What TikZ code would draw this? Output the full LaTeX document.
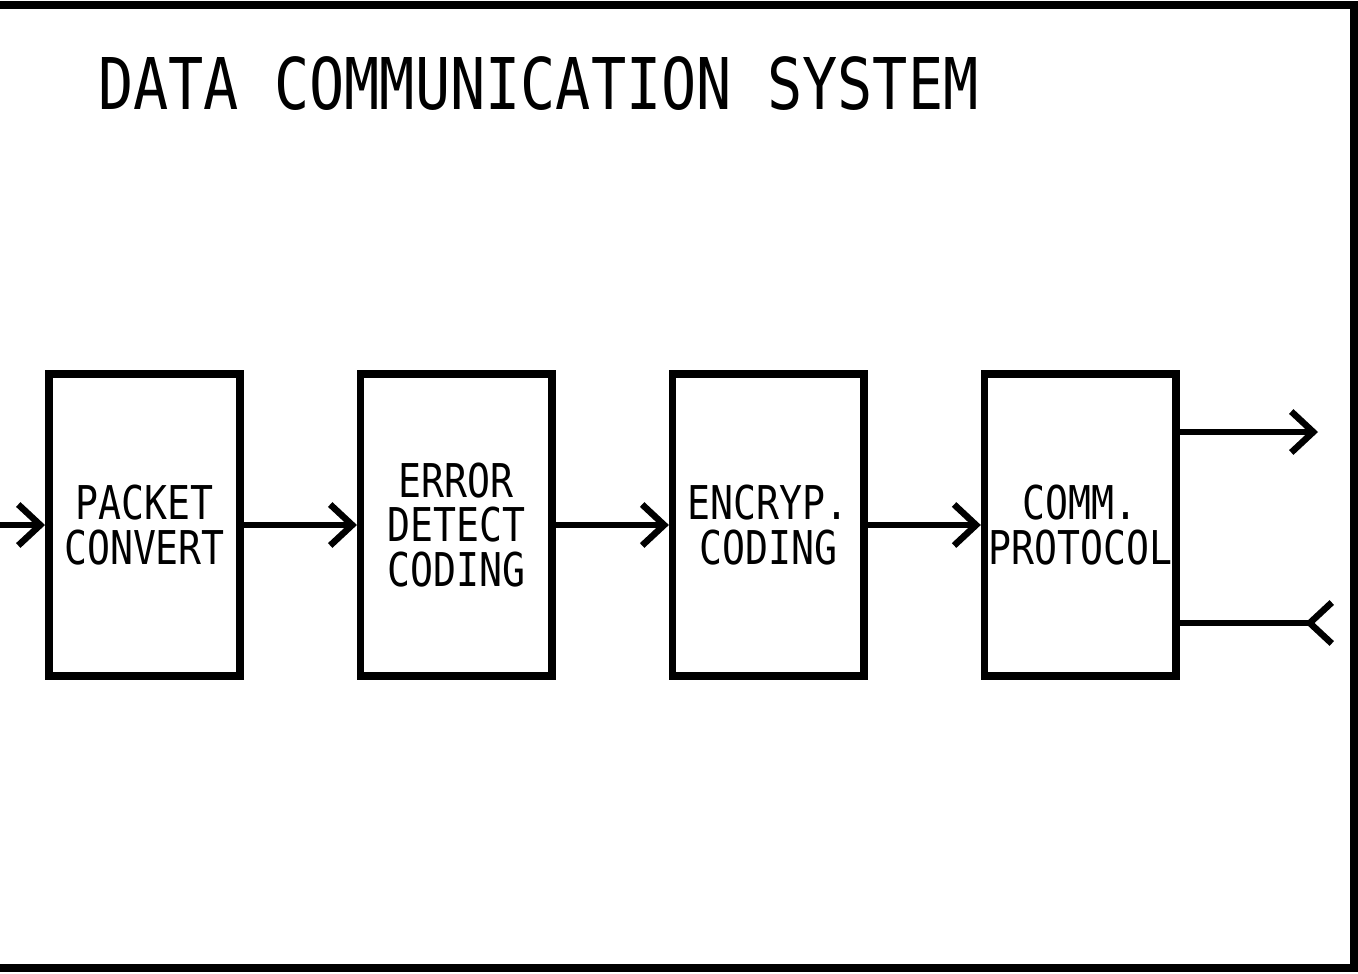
\documentclass[tikz,border=0pt]{standalone}
\usepackage{fontspec}
\usepackage{tikz}
\usetikzlibrary{arrows.meta, positioning}
\newfontfamily\plotfont[FakeStretch=0.82]{DejaVu Sans Mono}
\newfontfamily\titlefont[FakeStretch=0.82]{DejaVu Sans Mono}

\begin{document}
\begin{tikzpicture}[
      x=0.02cm, y=-0.02cm,
      block/.style={rectangle, draw, line width=0.15cm, minimum width=3.83cm, minimum height=6.05cm, inner sep=0pt, align=center, font=\plotfont\fontsize{26.5}{25.5}\selectfont},
      link/.style={line width=0.13cm, -{Straight Barb[length=0.44cm, width=0.82cm]}},
      backlink/.style={line width=0.13cm, -{Straight Barb[length=0.44cm, width=0.82cm, reversed]}}
    ]
      \useasboundingbox (0,0) rectangle (1358,973);
      \draw[line width=0.17cm] (0,5) -- (1354,5) -- (1354,968) -- (0,968);

      \node[anchor=base west, font=\titlefont\fontsize{40.6}{44}\selectfont] (title) at (92,110) {DATA COMMUNICATION SYSTEM};

      \node[block] (pkt) at (144.5,525) {PACKET\\CONVERT};
      \node[block, right=2.26cm of pkt] (err) {ERROR\\DETECT\\CODING};
      \node[block, right=2.26cm of err] (enc) {ENCRYP.\\CODING};
      \node[block, right=2.26cm of enc] (proto) {COMM.\\PROTOCOL};

      \coordinate (src) at (0,525);
      \coordinate (outA) at (1318,432);
      \coordinate (outB) at (1335,623);

      \draw[link] (src) -- (pkt.west);
      \draw[link] (pkt) -- (err);
      \draw[link] (err) -- (enc);
      \draw[link] (enc) -- (proto);
      \draw[link] (proto.east |- outA) -- (outA);
      \draw[backlink] (proto.east |- outB) -- (outB);
    \end{tikzpicture}
\end{document}
